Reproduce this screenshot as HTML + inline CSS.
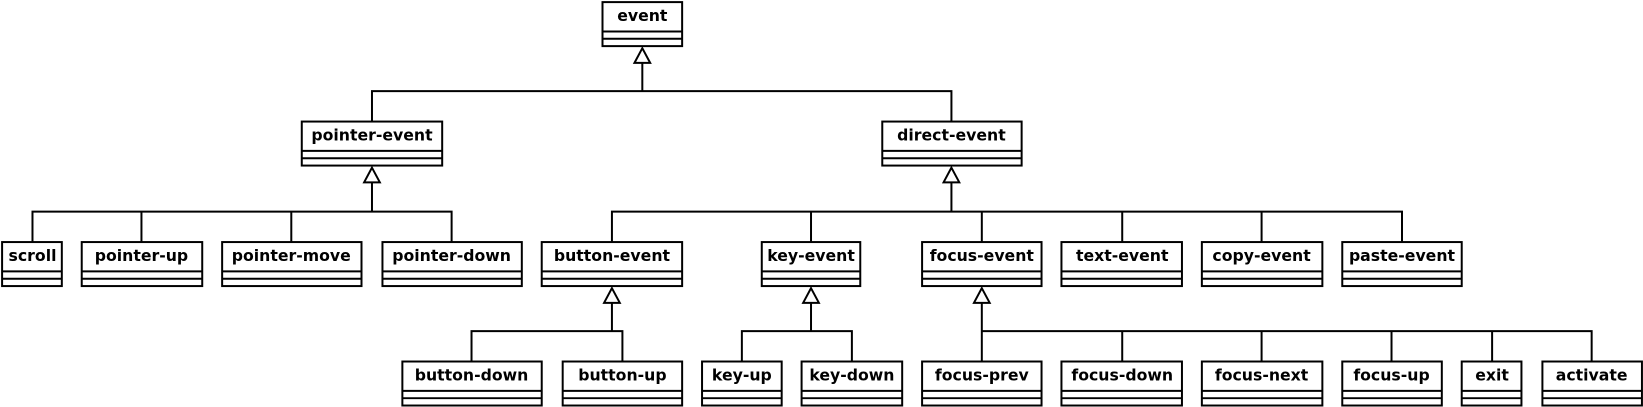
<!DOCTYPE html>
<html><head><meta charset="utf-8"><style>html,body{margin:0;padding:0;background:#fff}svg{display:block}</style></head>
<body>
<svg xmlns="http://www.w3.org/2000/svg" width="1643" height="407" viewBox="0 0 1568 388.4">
<g stroke="#000" stroke-width="1.9" fill="#fff">
<rect x="575" y="2" width="76" height="42"/><path d="M575 30H651M575 37H651" fill="none"/>
<rect x="288" y="116" width="134" height="42"/><path d="M288 144H422M288 151H422" fill="none"/>
<rect x="842" y="116" width="133" height="42"/><path d="M842 144H975M842 151H975" fill="none"/>
<rect x="2" y="231" width="57" height="42"/><path d="M2 259H59M2 266H59" fill="none"/>
<rect x="78" y="231" width="115" height="42"/><path d="M78 259H193M78 266H193" fill="none"/>
<rect x="212" y="231" width="133" height="42"/><path d="M212 259H345M212 266H345" fill="none"/>
<rect x="365" y="231" width="133" height="42"/><path d="M365 259H498M365 266H498" fill="none"/>
<rect x="517" y="231" width="134" height="42"/><path d="M517 259H651M517 266H651" fill="none"/>
<rect x="727" y="231" width="94" height="42"/><path d="M727 259H821M727 266H821" fill="none"/>
<rect x="880" y="231" width="114" height="42"/><path d="M880 259H994M880 266H994" fill="none"/>
<rect x="1013" y="231" width="115" height="42"/><path d="M1013 259H1128M1013 266H1128" fill="none"/>
<rect x="1147" y="231" width="115" height="42"/><path d="M1147 259H1262M1147 266H1262" fill="none"/>
<rect x="1281" y="231" width="114" height="42"/><path d="M1281 259H1395M1281 266H1395" fill="none"/>
<rect x="384" y="345" width="133" height="42"/><path d="M384 373H517M384 380H517" fill="none"/>
<rect x="537" y="345" width="114" height="42"/><path d="M537 373H651M537 380H651" fill="none"/>
<rect x="670" y="345" width="76" height="42"/><path d="M670 373H746M670 380H746" fill="none"/>
<rect x="765" y="345" width="96" height="42"/><path d="M765 373H861M765 380H861" fill="none"/>
<rect x="880" y="345" width="114" height="42"/><path d="M880 373H994M880 380H994" fill="none"/>
<rect x="1013" y="345" width="115" height="42"/><path d="M1013 373H1128M1013 380H1128" fill="none"/>
<rect x="1147" y="345" width="115" height="42"/><path d="M1147 373H1262M1147 380H1262" fill="none"/>
<rect x="1281" y="345" width="95" height="42"/><path d="M1281 373H1376M1281 380H1376" fill="none"/>
<rect x="1395" y="345" width="57" height="42"/><path d="M1395 373H1452M1395 380H1452" fill="none"/>
<rect x="1472" y="345" width="95" height="42"/><path d="M1472 373H1567M1472 380H1567" fill="none"/>
</g>
<g fill="none" stroke="#000" stroke-width="1.9">
<path d="M613 60V87M355 116V87H908V116"/>
<path d="M355 174V202M31 231V202H431V231M135 202V231M278 202V231"/>
<path d="M908 174V202M584 231V202H1338V231M774 202V231M937 202V231M1071 202V231M1204 202V231"/>
<path d="M584 289V316M450 345V316H594V345"/>
<path d="M774 289V316M708 345V316H813V345"/>
<path d="M937 289V345M937 316H1519V345M1071 316V345M1204 316V345M1328 316V345M1424 316V345"/>
</g>
<g fill="#fff" stroke="#000" stroke-width="1.9">
<path d="M613 46L620.5 60H605.5Z"/>
<path d="M355 160L362.5 174H347.5Z"/>
<path d="M908 160L915.5 174H900.5Z"/>
<path d="M584 275L591.5 289H576.5Z"/>
<path d="M774 275L781.5 289H766.5Z"/>
<path d="M937 275L944.5 289H929.5Z"/>
</g>
<g font-family="'DejaVu Sans','Liberation Sans',sans-serif" font-weight="bold" font-size="15" text-anchor="middle" fill="#000">
<text x="613" y="20">event</text>
<text x="355" y="134">pointer-event</text>
<text x="908" y="134">direct-event</text>
<text x="31" y="249">scroll</text>
<text x="135" y="249">pointer-up</text>
<text x="278" y="249">pointer-move</text>
<text x="431" y="249">pointer-down</text>
<text x="584" y="249">button-event</text>
<text x="774" y="249">key-event</text>
<text x="937" y="249">focus-event</text>
<text x="1071" y="249">text-event</text>
<text x="1204" y="249">copy-event</text>
<text x="1338" y="249">paste-event</text>
<text x="450" y="363">button-down</text>
<text x="594" y="363">button-up</text>
<text x="708" y="363">key-up</text>
<text x="813" y="363">key-down</text>
<text x="937" y="363">focus-prev</text>
<text x="1071" y="363">focus-down</text>
<text x="1204" y="363">focus-next</text>
<text x="1328" y="363">focus-up</text>
<text x="1424" y="363">exit</text>
<text x="1519" y="363">activate</text>
</g>
</svg>
</body></html>
